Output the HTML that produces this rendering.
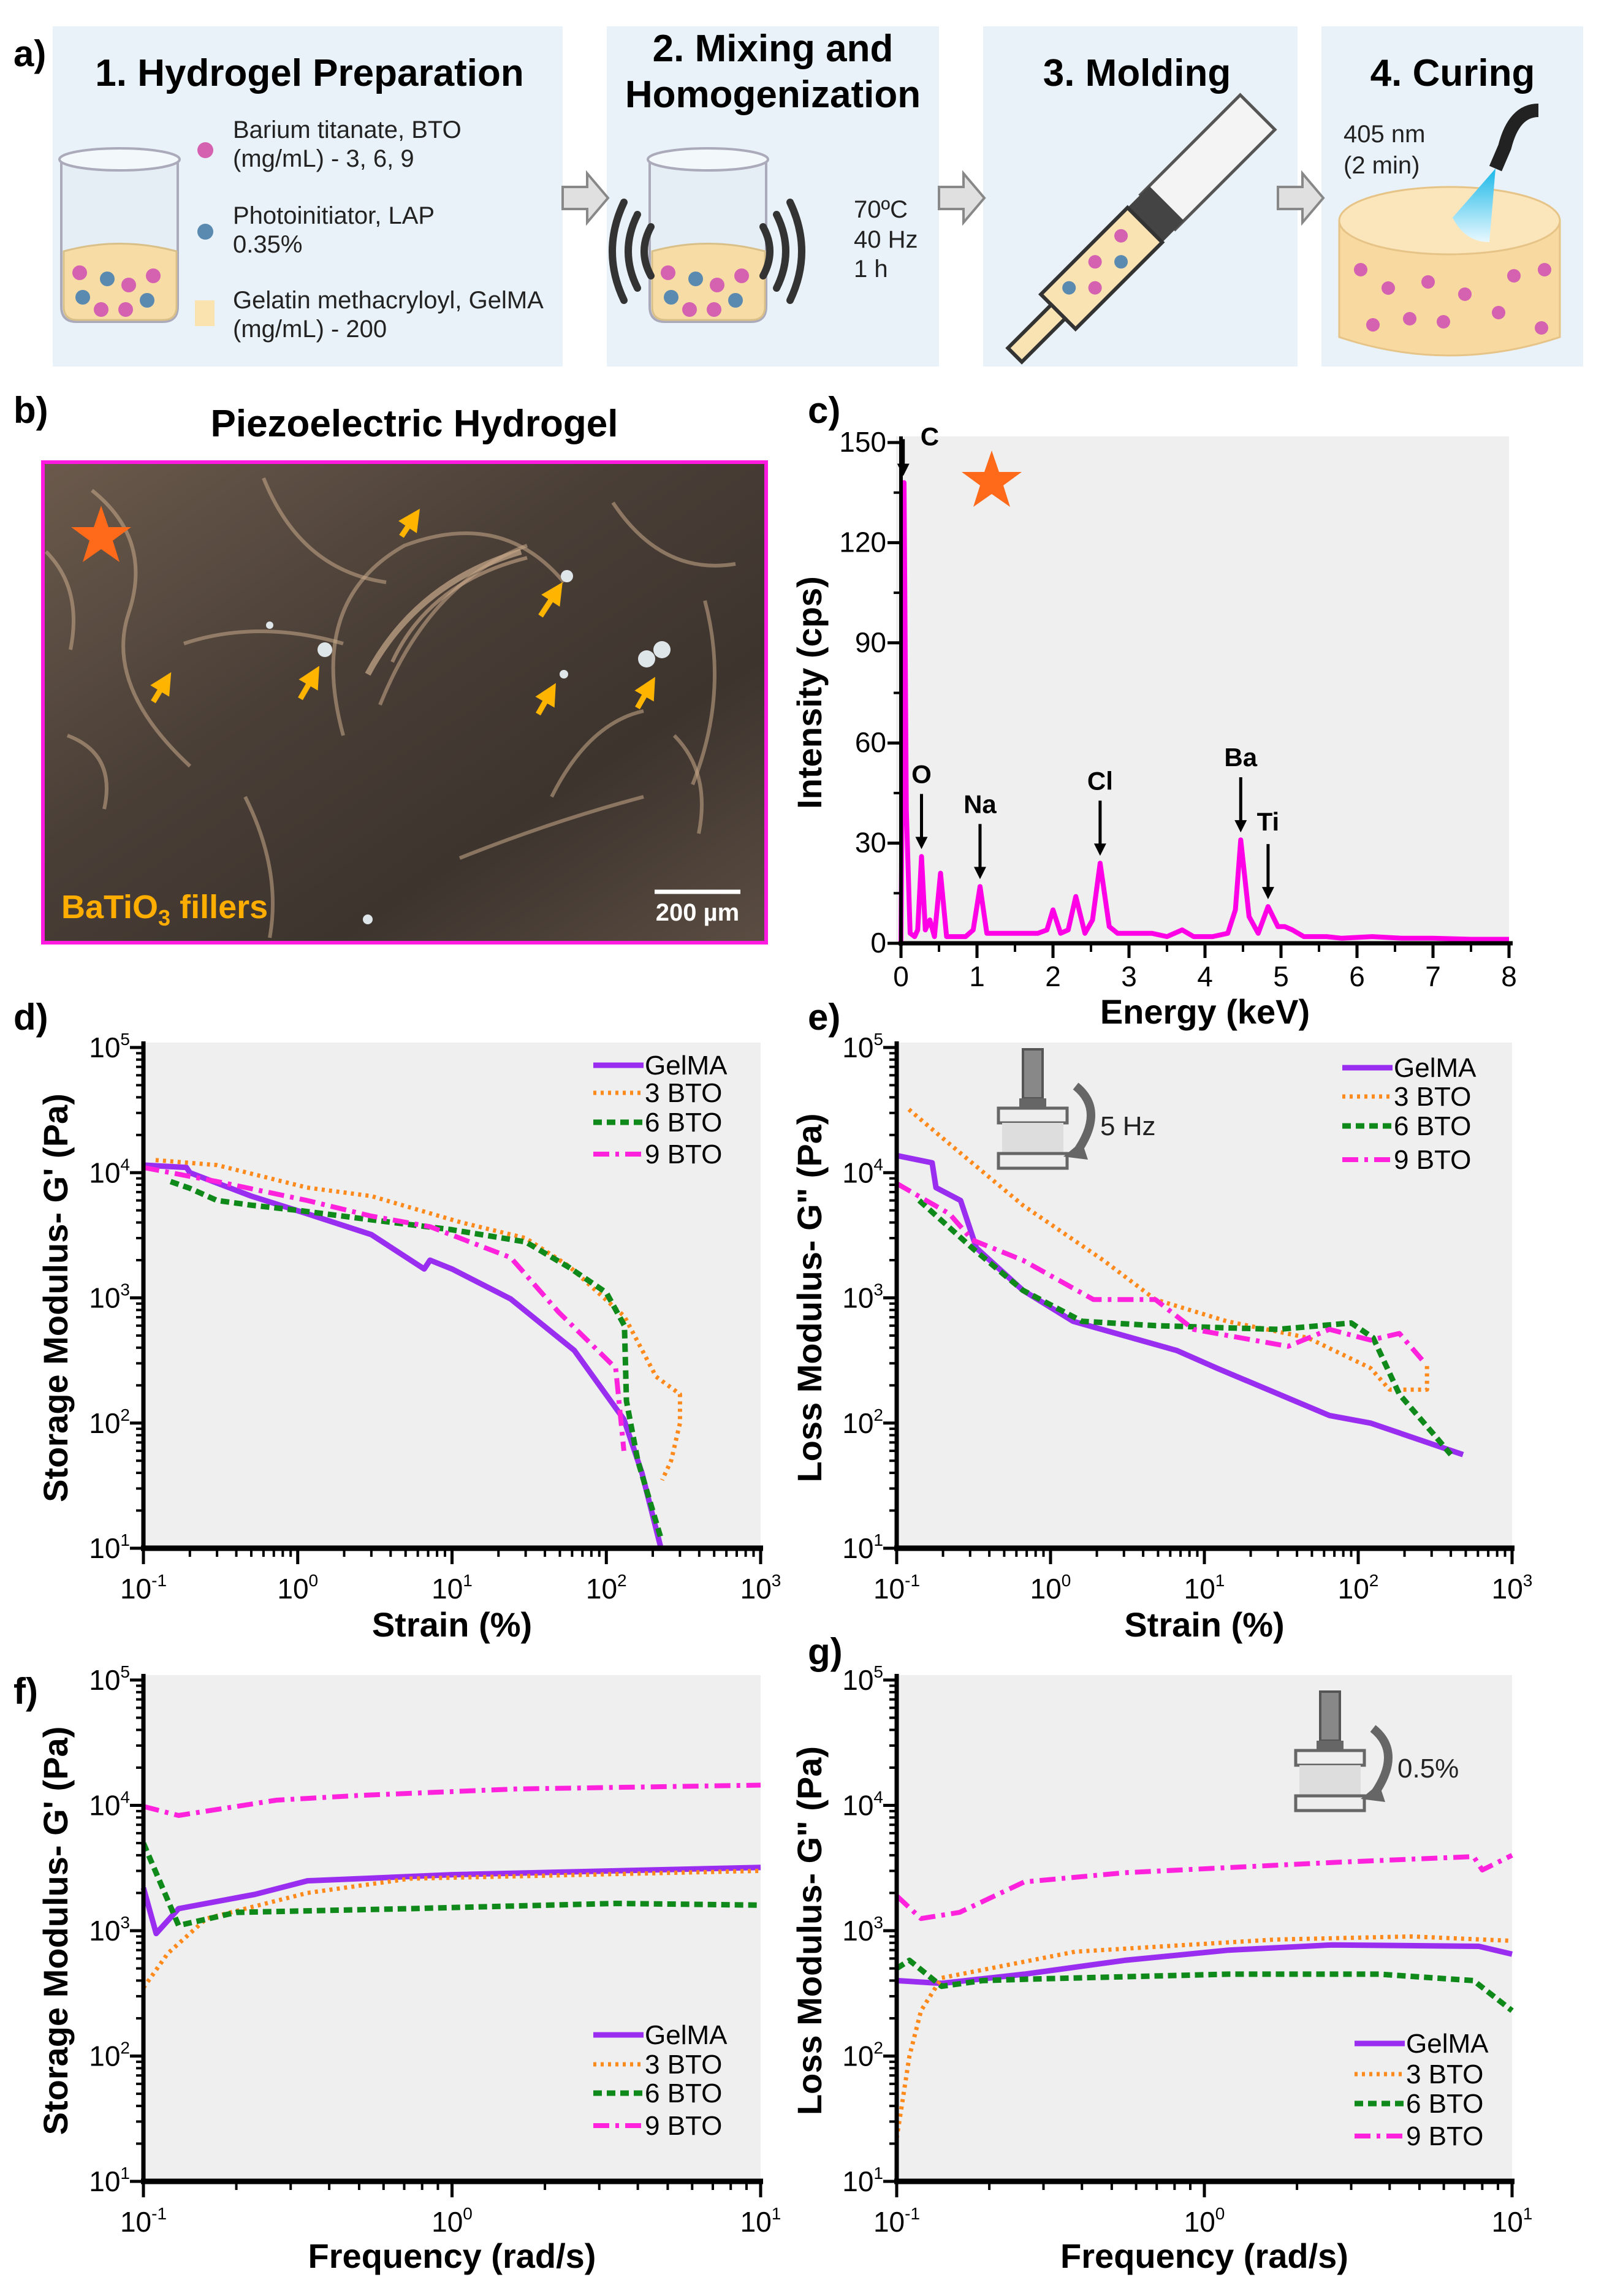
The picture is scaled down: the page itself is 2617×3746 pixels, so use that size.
<!DOCTYPE html>
<html><head><meta charset="utf-8"><style>
html,body{margin:0;padding:0;background:#fff;}
svg{display:block;font-family:"Liberation Sans Narrow","Liberation Sans",sans-serif;}
.b{font-weight:bold;}
</style></head><body>
<svg id="fig" width="2617" height="3746" viewBox="0 0 2617 3746" xmlns="http://www.w3.org/2000/svg">
<defs>
<linearGradient id="sem" x1="0" y1="0" x2="1" y2="1">
<stop offset="0" stop-color="#6b5a4c"/><stop offset="0.4" stop-color="#4a3f37"/><stop offset="0.7" stop-color="#3d342e"/><stop offset="1" stop-color="#5b4d42"/></linearGradient>
<linearGradient id="blue" x1="0" y1="0" x2="0" y2="1"><stop offset="0" stop-color="#1ab8e8"/><stop offset="1" stop-color="#e8f8ff"/></linearGradient>
<marker id="ah" markerWidth="4" markerHeight="4" refX="2" refY="2" orient="auto"><path d="M0 0 L4 2 L0 4z" fill="#ffb400"/></marker>
</defs>
<!-- Panel a -->
<g>
<text x="22" y="108" font-size="60" class="b">a)</text>
<rect x="86" y="43" width="832" height="555" fill="#e9f2f8"/>
<rect x="990" y="43" width="542" height="555" fill="#e9f2f8"/>
<rect x="1604" y="43" width="513" height="555" fill="#e9f2f8"/>
<rect x="2156" y="43" width="427" height="555" fill="#e9f2f8"/>
<text x="505" y="140" font-size="62" class="b" text-anchor="middle">1. Hydrogel  Preparation</text>
<text x="1261" y="100" font-size="62" class="b" text-anchor="middle">2. Mixing and</text>
<text x="1261" y="175" font-size="62" class="b" text-anchor="middle">Homogenization</text>
<text x="1855" y="140" font-size="62" class="b" text-anchor="middle">3. Molding</text>
<text x="2370" y="140" font-size="62" class="b" text-anchor="middle">4. Curing</text>
<g font-size="40" fill="#222">
<circle cx="335" cy="245" r="13" fill="#d462b0"/><circle cx="335" cy="378" r="13" fill="#5a8ab0"/><rect x="318" y="490" width="32" height="42" fill="#fbe3b0"/>
<text x="380" y="225">Barium titanate, BTO</text><text x="380" y="272">(mg/mL) - 3, 6,  9</text>
<text x="380" y="365">Photoinitiator, LAP</text><text x="380" y="412">0.35%</text>
<text x="380" y="503">Gelatin methacryloyl, GelMA</text><text x="380" y="550">(mg/mL) - 200</text>
</g>
<g id="beakers"></g>
<g fill="none" stroke="#333" stroke-width="12" stroke-linecap="round">
<path d="M1062 370 Q1040 410 1062 450"/><path d="M1040 350 Q1010 410 1040 470"/><path d="M1018 330 Q980 410 1018 490"/>
<path d="M1245 370 Q1267 410 1245 450"/><path d="M1267 350 Q1297 410 1267 470"/><path d="M1289 330 Q1327 410 1289 490"/>
</g>
<g font-size="40" fill="#222"><text x="1393" y="355">70ºC</text><text x="1393" y="404">40 Hz</text><text x="1393" y="452">1 h</text></g>
<g fill="#e0e0e0" stroke="#888" stroke-width="4">
<path d="M918 305 h40 v-22 l34 40 l-34 40 v-22 h-40z"/><path d="M1532 305 h40 v-22 l34 40 l-34 40 v-22 h-40z"/><path d="M2085 305 h40 v-22 l34 40 l-34 40 v-22 h-40z"/>
</g>
<g transform="translate(1875,360) rotate(45)">
<rect x="-40" y="-250" width="80" height="230" fill="#f4f4f4" stroke="#555" stroke-width="5"/>
<rect x="-40" y="-40" width="80" height="50" fill="#444"/>
<rect x="-40" y="10" width="80" height="200" fill="#f9e3b3" stroke="#333" stroke-width="6"/>
<rect x="-16" y="210" width="32" height="100" fill="#f9e3b3" stroke="#333" stroke-width="6"/>
<circle cx="-15" cy="50" r="11" fill="#d462b0"/><circle cx="15" cy="80" r="11" fill="#5a8ab0"/><circle cx="-15" cy="110" r="11" fill="#d462b0"/><circle cx="15" cy="140" r="11" fill="#d462b0"/><circle cx="-15" cy="170" r="11" fill="#5a8ab0"/>
</g>
<g>
<path d="M2185 360 v190 q180 60 360 0 v-190z" fill="#f8d9a0" stroke="#e6c386" stroke-width="3"/>
<ellipse cx="2365" cy="360" rx="180" ry="55" fill="#fbe5bb" stroke="#e6c386" stroke-width="3"/>
<path d="M2510 180 q-40 0 -55 60 l-15 35" fill="none" stroke="#222" stroke-width="22"/>
<path d="M2440 275 l-70 80 q20 40 60 40 z" fill="url(#blue)"/>
<g fill="#d462b0"><circle cx="2220" cy="440" r="11"/><circle cx="2265" cy="470" r="11"/><circle cx="2330" cy="460" r="11"/><circle cx="2390" cy="480" r="11"/><circle cx="2470" cy="450" r="11"/><circle cx="2520" cy="440" r="11"/><circle cx="2240" cy="530" r="11"/><circle cx="2300" cy="520" r="11"/><circle cx="2355" cy="525" r="11"/><circle cx="2445" cy="510" r="11"/><circle cx="2515" cy="535" r="11"/></g>
<text x="2192" y="232" font-size="40" fill="#222">405 nm</text><text x="2192" y="283" font-size="40" fill="#222">(2 min)</text>
</g>
</g>
<!-- Panel b -->
<g>
<text x="22" y="690" font-size="60" class="b">b)</text>
<text x="676" y="712" font-size="62" class="b" text-anchor="middle">Piezoelectric Hydrogel</text>
<rect x="70" y="754" width="1180" height="784" fill="url(#sem)" stroke="#ff1adf" stroke-width="6"/>
<g fill="none" stroke="#c9a98a" stroke-opacity="0.55" stroke-width="6">
<path d="M150 800 q100 80 60 200 t100 250"/><path d="M430 780 q60 150 200 170"/><path d="M560 1200 q-60 -220 100 -310 q160 -60 260 60"/><path d="M620 1150 q80 -200 240 -260"/><path d="M1000 820 q80 120 200 100"/><path d="M300 1050 q120 -40 260 0"/><path d="M900 1300 q60 -120 150 -140"/><path d="M110 1200 q80 30 60 120"/><path d="M750 1400 q150 -60 300 -100"/>
<path d="M600 1100 q80 -150 250 -200" stroke-opacity="0.7" stroke-width="10"/><path d="M640 1080 q60 -130 220 -170" stroke-opacity="0.6"/><path d="M75 900 q60 60 40 160"/><path d="M1150 980 q40 150 -20 300"/><path d="M400 1300 q60 120 40 230"/><path d="M1100 1200 q60 60 40 160"/>
</g>
<g stroke="#ffb400" stroke-width="9" marker-end="url(#ah)">
<line x1="655" y1="875" x2="675" y2="845"/><line x1="882" y1="1005" x2="908" y2="965"/><line x1="250" y1="1145" x2="270" y2="1112"/><line x1="490" y1="1140" x2="512" y2="1102"/><line x1="878" y1="1165" x2="898" y2="1130"/><line x1="1040" y1="1155" x2="1060" y2="1120"/>
</g>
<g fill="#dfe6ea"><circle cx="925" cy="940" r="10"/><circle cx="530" cy="1060" r="12"/><circle cx="1055" cy="1075" r="14"/><circle cx="1080" cy="1060" r="14"/><circle cx="920" cy="1100" r="7"/><circle cx="440" cy="1020" r="6"/><circle cx="600" cy="1500" r="8"/></g>
<path d="M165 825 l12 35 h37 l-30 22 l11 35 l-30 -21 l-30 21 l11 -35 l-30 -22 h37z" fill="#ff6a1a"/>
<text x="100" y="1498" font-size="54" class="b" fill="#ffae00">BaTiO<tspan font-size="36" dy="12">3</tspan><tspan dy="-12"> fillers</tspan></text>
<line x1="1068" y1="1455" x2="1208" y2="1455" stroke="#fff" stroke-width="7"/>
<text x="1138" y="1502" font-size="40" class="b" fill="#fff" text-anchor="middle">200 µm</text>
</g>
<g id="charts"></g>
</svg>
<script>
// ---------- EDS data (panel c) ----------
const edsEnergy = [0,0.02,0.04,0.07,0.12,0.18,0.22,0.27,0.32,0.38,0.44,0.52,0.6,0.7,0.85,0.95,1.04,1.13,1.25,1.4,1.6,1.8,1.92,2.0,2.1,2.2,2.3,2.42,2.52,2.62,2.74,2.85,3.0,3.3,3.5,3.7,3.85,4.1,4.3,4.4,4.47,4.58,4.7,4.83,4.96,5.05,5.15,5.3,5.6,5.8,6.2,6.6,7,7.5,8];
const edsCounts = [0,60,138,40,3,2,4,26,4,7,2,21,2,2,2,4,17,3,3,3,3,3,4,10,3,4,14,3,7,24,5,3,3,3,2,4,2,2,3,10,31,8,3,11,5,5,4,2,2,1.5,2,1.5,1.5,1.2,1.2];
const edsYTicks = [0,30,60,90,120,150];
const edsXTicks = [0,1,2,3,4,5,6,7,8];
const edsPeakNames = ["C","O","Na","Cl","Ba","Ti"];
const edsPeakE = [0.03,0.27,1.04,2.62,4.47,4.83];
const edsPeakTop = [138,26,17,24,31,11];

// ---------- Panel d: storage modulus vs strain ----------
const dGelX = [0.1,0.19,0.2,0.5,1.15,3,6.6,7.2,10,24,62,130,170,226];
const dGelY = [11500,11000,10000,6500,4700,3200,1700,2000,1700,980,380,107,40,10];
const d3X = [0.12,0.3,1.15,3,11.5,30,57,131,210,300,300,263,230];
const d3Y = [12600,11500,7600,6500,4000,3000,1800,710,235,170,100,50,35];
const d6X = [0.15,0.2,0.3,0.5,1,3,10,30,57,100,131,135,160,226];
const d6Y = [8500,7500,6000,5500,5000,4200,3500,2800,1760,1100,600,150,50,12];
const d9X = [0.1,0.3,1.15,3,7.2,24,49,115,130];
const d9Y = [11000,8500,6000,4500,3700,2100,770,275,60];

// ---------- Panel e: loss modulus vs strain ----------
const eGelX = [0.1,0.17,0.18,0.26,0.33,0.66,1.4,6.6,12,65,120,480];
const eGelY = [13700,12000,7600,6000,2500,1150,650,380,275,115,100,56];
const e3X = [0.12,0.22,0.66,2.2,4.8,14,47,120,160,280,280];
const e3Y = [32000,17000,5500,2000,970,650,480,275,185,185,300];
const e6X = [0.14,0.31,0.66,1.6,4.8,30,90,125,185,300,400];
const e6Y = [6000,2500,1150,650,600,560,630,480,170,85,56];
const e9X = [0.1,0.22,0.31,0.66,1.9,4.8,8.5,35,65,120,185,260];
const e9Y = [8200,4700,2900,2000,970,970,560,410,560,460,520,320];

// ---------- Panel f: storage modulus vs frequency ----------
const fGelX = [0.1,0.11,0.13,0.23,0.34,0.5,1,10];
const fGelY = [2200,950,1500,1950,2500,2600,2800,3200];
const f3X = [0.1,0.12,0.16,0.34,0.73,10];
const f3Y = [350,660,1250,2000,2600,3000];
const f6X = [0.1,0.13,0.2,0.73,3.4,10];
const f6Y = [5000,1100,1400,1500,1650,1600];
const f9X = [0.1,0.13,0.27,0.5,1.6,10];
const f9Y = [9800,8300,11000,12000,13500,14500];

// ---------- Panel g: loss modulus vs frequency ----------
const gGelX = [0.1,0.14,0.26,0.55,1.2,2.6,7.8,10];
const gGelY = [400,380,450,580,700,770,750,650];
const g3X = [0.1,0.11,0.12,0.14,0.38,1.7,4.7,10];
const g3Y = [22,100,230,420,680,850,900,830];
const g6X = [0.1,0.11,0.14,0.19,0.26,1.2,3.7,7.5,10];
const g6Y = [500,580,360,400,410,450,450,400,230];
const g9X = [0.1,0.12,0.16,0.26,0.55,2.6,7.5,8,10];
const g9Y = [1900,1250,1400,2450,2900,3500,3900,3050,4000];

const seriesNames = ["GelMA","3 BTO","6 BTO","9 BTO"];
const NS = "http://www.w3.org/2000/svg";
const root = document.getElementById('charts');
const styles = [
  {stroke:"#9a2ef0", width:9, dash:""},
  {stroke:"#ff8a1c", width:7, dash:"5 7"},
  {stroke:"#0f8a1a", width:9, dash:"14 8"},
  {stroke:"#ff22dd", width:8, dash:"26 10 6 10"}
];
function el(tag, attrs, parent){
  const e = document.createElementNS(NS, tag);
  for (const k in attrs) e.setAttribute(k, attrs[k]);
  (parent||root).appendChild(e);
  return e;
}
function txt(parent, x, y, s, size, opts){
  const t = el('text', Object.assign({x:x, y:y, 'font-size':size}, opts||{}), parent);
  t.textContent = s;
  return t;
}
function pow10(parent, x, y, exp, anchor){
  const t = el('text', {x:x, y:y, 'font-size':46, 'text-anchor':anchor}, parent);
  const a = document.createElementNS(NS,'tspan'); a.textContent='10'; t.appendChild(a);
  const b = document.createElementNS(NS,'tspan'); b.setAttribute('font-size','28'); b.setAttribute('dy','-20'); b.textContent=String(exp); t.appendChild(b);
  return t;
}

function logPanel(cfg){
  const g = el('g', {});
  
  
  const {x0,x1,y0,y1,xmin,xmax,ymin,ymax} = cfg;
  const sx = v => x0 + (Math.log10(v)-Math.log10(xmin))/(Math.log10(xmax)-Math.log10(xmin))*(x1-x0);
  const sy = v => y1 - (Math.log10(v)-Math.log10(ymin))/(Math.log10(ymax)-Math.log10(ymin))*(y1-y0);
  const bg = el('rect', {x:x0, y:y0-8, width:x1-x0, height:y1-y0+8, fill:'#efefef'}, g);
  
  
  cfg.series.forEach((s,i)=>{
    const d = s.x.map((v,j)=>(j?'L':'M')+sx(v).toFixed(1)+' '+sy(s.y[j]).toFixed(1)).join(' ');
    const p = el('path', {d:d, fill:'none', stroke:styles[i].stroke, 'stroke-width':styles[i].width, 'stroke-dasharray':styles[i].dash, 'stroke-linejoin':'round', 'stroke-linecap':'butt'}, g);
    
    
  });
  const ax = el('g', {stroke:'#000'}, g);
  
  
  el('line', {x1:x0, y1:y0-10, x2:x0, y2:y1+4, 'stroke-width':7}, ax);
  el('line', {x1:x0-4, y1:y1, x2:x1+4, y2:y1, 'stroke-width':9}, ax);
  const xe0 = Math.round(Math.log10(xmin)), xe1 = Math.round(Math.log10(xmax));
  for (let e=xe0; e<=xe1; e++){
    const X = sx(Math.pow(10,e));
    el('line', {x1:X, y1:y1, x2:X, y2:y1+26, 'stroke-width':5}, ax);
    if (e<xe1) for (let m=2;m<=9;m++){ const Xm = sx(m*Math.pow(10,e)); el('line', {x1:Xm, y1:y1, x2:Xm, y2:y1+14, 'stroke-width':4}, ax); }
    const lab = pow10(g, X, y1+82, e, 'middle');
    
    
  }
  const ye0 = Math.round(Math.log10(ymin)), ye1 = Math.round(Math.log10(ymax));
  for (let e=ye0; e<=ye1; e++){
    const Y = sy(Math.pow(10,e));
    el('line', {x1:x0-22, y1:Y, x2:x0, y2:Y, 'stroke-width':5}, ax);
    if (e<ye1) for (let m=2;m<=9;m++){ const Ym = sy(m*Math.pow(10,e)); el('line', {x1:x0-12, y1:Ym, x2:x0, y2:Ym, 'stroke-width':4}, ax); }
    const lab = pow10(g, x0-22, Y+16, e, 'end');
    
    
  }
  const xt = txt(g, (x0+x1)/2, cfg.xTitleY, cfg.xTitle, 56, {'text-anchor':'middle', 'font-weight':'bold', 'font-family':'Liberation Sans, sans-serif'});
  
  
  const yt = txt(g, 0, 0, cfg.yTitle, 56, {'text-anchor':'middle', 'font-weight':'bold', 'font-family':'Liberation Sans, sans-serif', transform:'translate('+cfg.yTitleX+','+((y0+y1)/2)+') rotate(-90)'});
  
  
  const lg = el('g', {}, g);
  
  
  cfg.legY.forEach((ly,i)=>{
    const ent = el('g', {}, lg);
    
    
    el('line', {x1:cfg.legX, y1:ly, x2:cfg.legX+82, y2:ly, stroke:styles[i].stroke, 'stroke-width':styles[i].width, 'stroke-dasharray':styles[i].dash}, ent);
    txt(ent, cfg.legX+84, ly+15, seriesNames[i], 44);
  });
  const pl = txt(g, cfg.labX, cfg.labY, cfg.label, 60, {'font-weight':'bold'});
  
  
  return g;
}

logPanel({name:'chart-d-storage-strain', x0:234,x1:1241,y0:1709,y1:2526,xmin:0.1,xmax:1000,ymin:10,ymax:1e5,
  series:[{x:dGelX,y:dGelY},{x:d3X,y:d3Y},{x:d6X,y:d6Y},{x:d9X,y:d9Y}],
  xTitle:'Strain (%)', xTitleY:2670, yTitle:"Storage Modulus- G' (Pa)", yTitleX:110,
  legX:968, legY:[1738,1783,1831,1883], label:'d)', labX:22, labY:1680});
logPanel({name:'chart-e-loss-strain', x0:1463,x1:2467,y0:1709,y1:2526,xmin:0.1,xmax:1000,ymin:10,ymax:1e5,
  series:[{x:eGelX,y:eGelY},{x:e3X,y:e3Y},{x:e6X,y:e6Y},{x:e9X,y:e9Y}],
  xTitle:'Strain (%)', xTitleY:2670, yTitle:'Loss Modulus- G" (Pa)', yTitleX:1340,
  legX:2190, legY:[1742,1789,1837,1892], label:'e)', labX:1318, labY:1680});
logPanel({name:'chart-f-storage-frequency', x0:234,x1:1241,y0:2741,y1:3559,xmin:0.1,xmax:10,ymin:10,ymax:1e5,
  series:[{x:fGelX,y:fGelY},{x:f3X,y:f3Y},{x:f6X,y:f6Y},{x:f9X,y:f9Y}],
  xTitle:'Frequency (rad/s)', xTitleY:3700, yTitle:"Storage Modulus- G' (Pa)", yTitleX:110,
  legX:968, legY:[3320,3368,3415,3468], label:'f)', labX:22, labY:2780});
logPanel({name:'chart-g-loss-frequency', x0:1463,x1:2467,y0:2741,y1:3559,xmin:0.1,xmax:10,ymin:10,ymax:1e5,
  series:[{x:gGelX,y:gGelY},{x:g3X,y:g3Y},{x:g6X,y:g6Y},{x:g9X,y:g9Y}],
  xTitle:'Frequency (rad/s)', xTitleY:3700, yTitle:'Loss Modulus- G" (Pa)', yTitleX:1340,
  legX:2210, legY:[3334,3384,3432,3485], label:'g)', labX:1318, labY:2715});

function rheo(x, y, label){
  const g = el('g', {transform:'translate('+x+','+y+')'});
  
  
  el('rect', {x:-16, y:0, width:32, height:80, fill:'#888', stroke:'#555', 'stroke-width':4}, g);
  el('rect', {x:-22, y:80, width:44, height:16, fill:'#666'}, g);
  el('rect', {x:-56, y:96, width:112, height:24, fill:'#eee', stroke:'#666', 'stroke-width':5}, g);
  el('rect', {x:-50, y:120, width:100, height:50, fill:'#ddd'}, g);
  el('rect', {x:-56, y:170, width:112, height:24, fill:'#eee', stroke:'#666', 'stroke-width':5}, g);
  el('path', {d:'M70 60 q50 40 0 110', fill:'none', stroke:'#666', 'stroke-width':14}, g);
  el('path', {d:'M50 175 l30 -25 l10 30 z', fill:'#666'}, g);
  txt(g, 110, 140, label, 44, {fill:'#222'});
}
rheo(1685, 1712, '5 Hz');
rheo(2170, 2760, '0.5%');

(function(){
  const x0=1470, x1=2462, y0=722, y1=1539;
  const sx = v => x0 + v/8*(x1-x0);
  const sy = v => y1 - v/150*(y1-y0);
  const g = el('g', {});
  
  
  const bg = el('rect', {x:x0-8, y:y0-10, width:x1-x0+8, height:y1-y0+10, fill:'#efefef'}, g);
  
  
  const d = edsEnergy.map((v,i)=>(i?'L':'M')+sx(v).toFixed(1)+' '+sy(edsCounts[i]).toFixed(1)).join(' ');
  const p = el('path', {d:d, fill:'none', stroke:'#ff00e6', 'stroke-width':8, 'stroke-linejoin':'round'}, g);
  
  
  const ax = el('g', {stroke:'#000'}, g);
  
  
  el('line', {x1:x0, y1:y0-10, x2:x0, y2:y1+4, 'stroke-width':6}, ax);
  el('line', {x1:x0-4, y1:y1, x2:x1+6, y2:y1, 'stroke-width':7}, ax);
  edsXTicks.forEach(v=>{
    el('line', {x1:sx(v), y1:y1, x2:sx(v), y2:y1+24, 'stroke-width':5}, ax);
    if (v<8) el('line', {x1:sx(v+0.5), y1:y1, x2:sx(v+0.5), y2:y1+14, 'stroke-width':4}, ax);
    const t = txt(g, sx(v), y1+70, String(v), 46, {'text-anchor':'middle'});
    
    
  });
  edsYTicks.forEach(v=>{
    el('line', {x1:x0-22, y1:sy(v), x2:x0, y2:sy(v), 'stroke-width':5}, ax);
    if (v<150) el('line', {x1:x0-12, y1:sy(v+15), x2:x0, y2:sy(v+15), 'stroke-width':4}, ax);
    const t = txt(g, x0-24, sy(v)+15, String(v), 46, {'text-anchor':'end'});
    
    
  });
  edsPeakNames.forEach((n,i)=>{
    const X = sx(edsPeakE[i]);
    const top = sy(edsPeakTop[i]);
    const a = el('g', {}, g);
    
    
    const tipY = i===0 ? sy(140) : top-12;
    const len = i===0 ? 60 : 90;
    el('line', {x1:X, y1:tipY-len, x2:X, y2:tipY-14, stroke:'#000', 'stroke-width':5}, a);
    el('path', {d:'M'+(X-10)+' '+(tipY-20)+' L'+(X+10)+' '+(tipY-20)+' L'+X+' '+tipY+'Z', fill:'#000'}, a);
    if (i===0) txt(a, X+28, tipY-50, n, 42, {'font-weight':'bold','font-family':'Liberation Sans, sans-serif'});
    else if (i===5) txt(a, X, tipY-len-22, n, 42, {'font-weight':'bold','text-anchor':'middle','font-family':'Liberation Sans, sans-serif'});
    else txt(a, X, tipY-len-18, n, 42, {'font-weight':'bold','text-anchor':'middle','font-family':'Liberation Sans, sans-serif'});
  });
  const xt = txt(g, (x0+x1)/2, 1670, 'Energy (keV)', 56, {'text-anchor':'middle','font-weight':'bold','font-family':'Liberation Sans, sans-serif'});
  
  
  const yt = txt(g, 0, 0, 'Intensity (cps)', 56, {'text-anchor':'middle','font-weight':'bold','font-family':'Liberation Sans, sans-serif', transform:'translate(1340,1130) rotate(-90)'});
  
  
  const st = el('path', {d:'M1618 735 l12 35 h37 l-30 22 l11 35 l-30 -21 l-30 21 l11 -35 l-30 -22 h37z', fill:'#ff6a1a'}, g);
  
  
  const lab = txt(g, 1318, 690, 'c)', 60, {'font-weight':'bold'});
  
  
})();

function beaker(x, name){
  const b = document.getElementById('beakers');
  const g = el('g', {transform:'translate('+x+',240)'}, b);
  
  
  el('path', {d:'M10 20 h190 v240 q0 25 -25 25 h-140 q-25 0 -25 -25z', fill:'#e4eef4', stroke:'#aab', 'stroke-width':4}, g);
  el('ellipse', {cx:105, cy:20, rx:98, ry:18, fill:'#f3f8fb', stroke:'#aab', 'stroke-width':4}, g);
  el('path', {d:'M14 170 q90 -25 184 0 v90 q0 22 -22 22 h-140 q-22 0 -22 -22z', fill:'#f7dca6', stroke:'#d9bf88', 'stroke-width':3}, g);
  const pts = [[40,205,'#d462b0'],[85,215,'#5a8ab0'],[120,225,'#d462b0'],[160,210,'#d462b0'],[45,245,'#5a8ab0'],[150,250,'#5a8ab0'],[75,265,'#d462b0'],[115,265,'#d462b0']];
  pts.forEach(q=>el('circle', {cx:q[0], cy:q[1], r:12, fill:q[2]}, g));
}
beaker(90, 'beaker-step1');
beaker(1050, 'beaker-step2');
</script>
</body></html>
